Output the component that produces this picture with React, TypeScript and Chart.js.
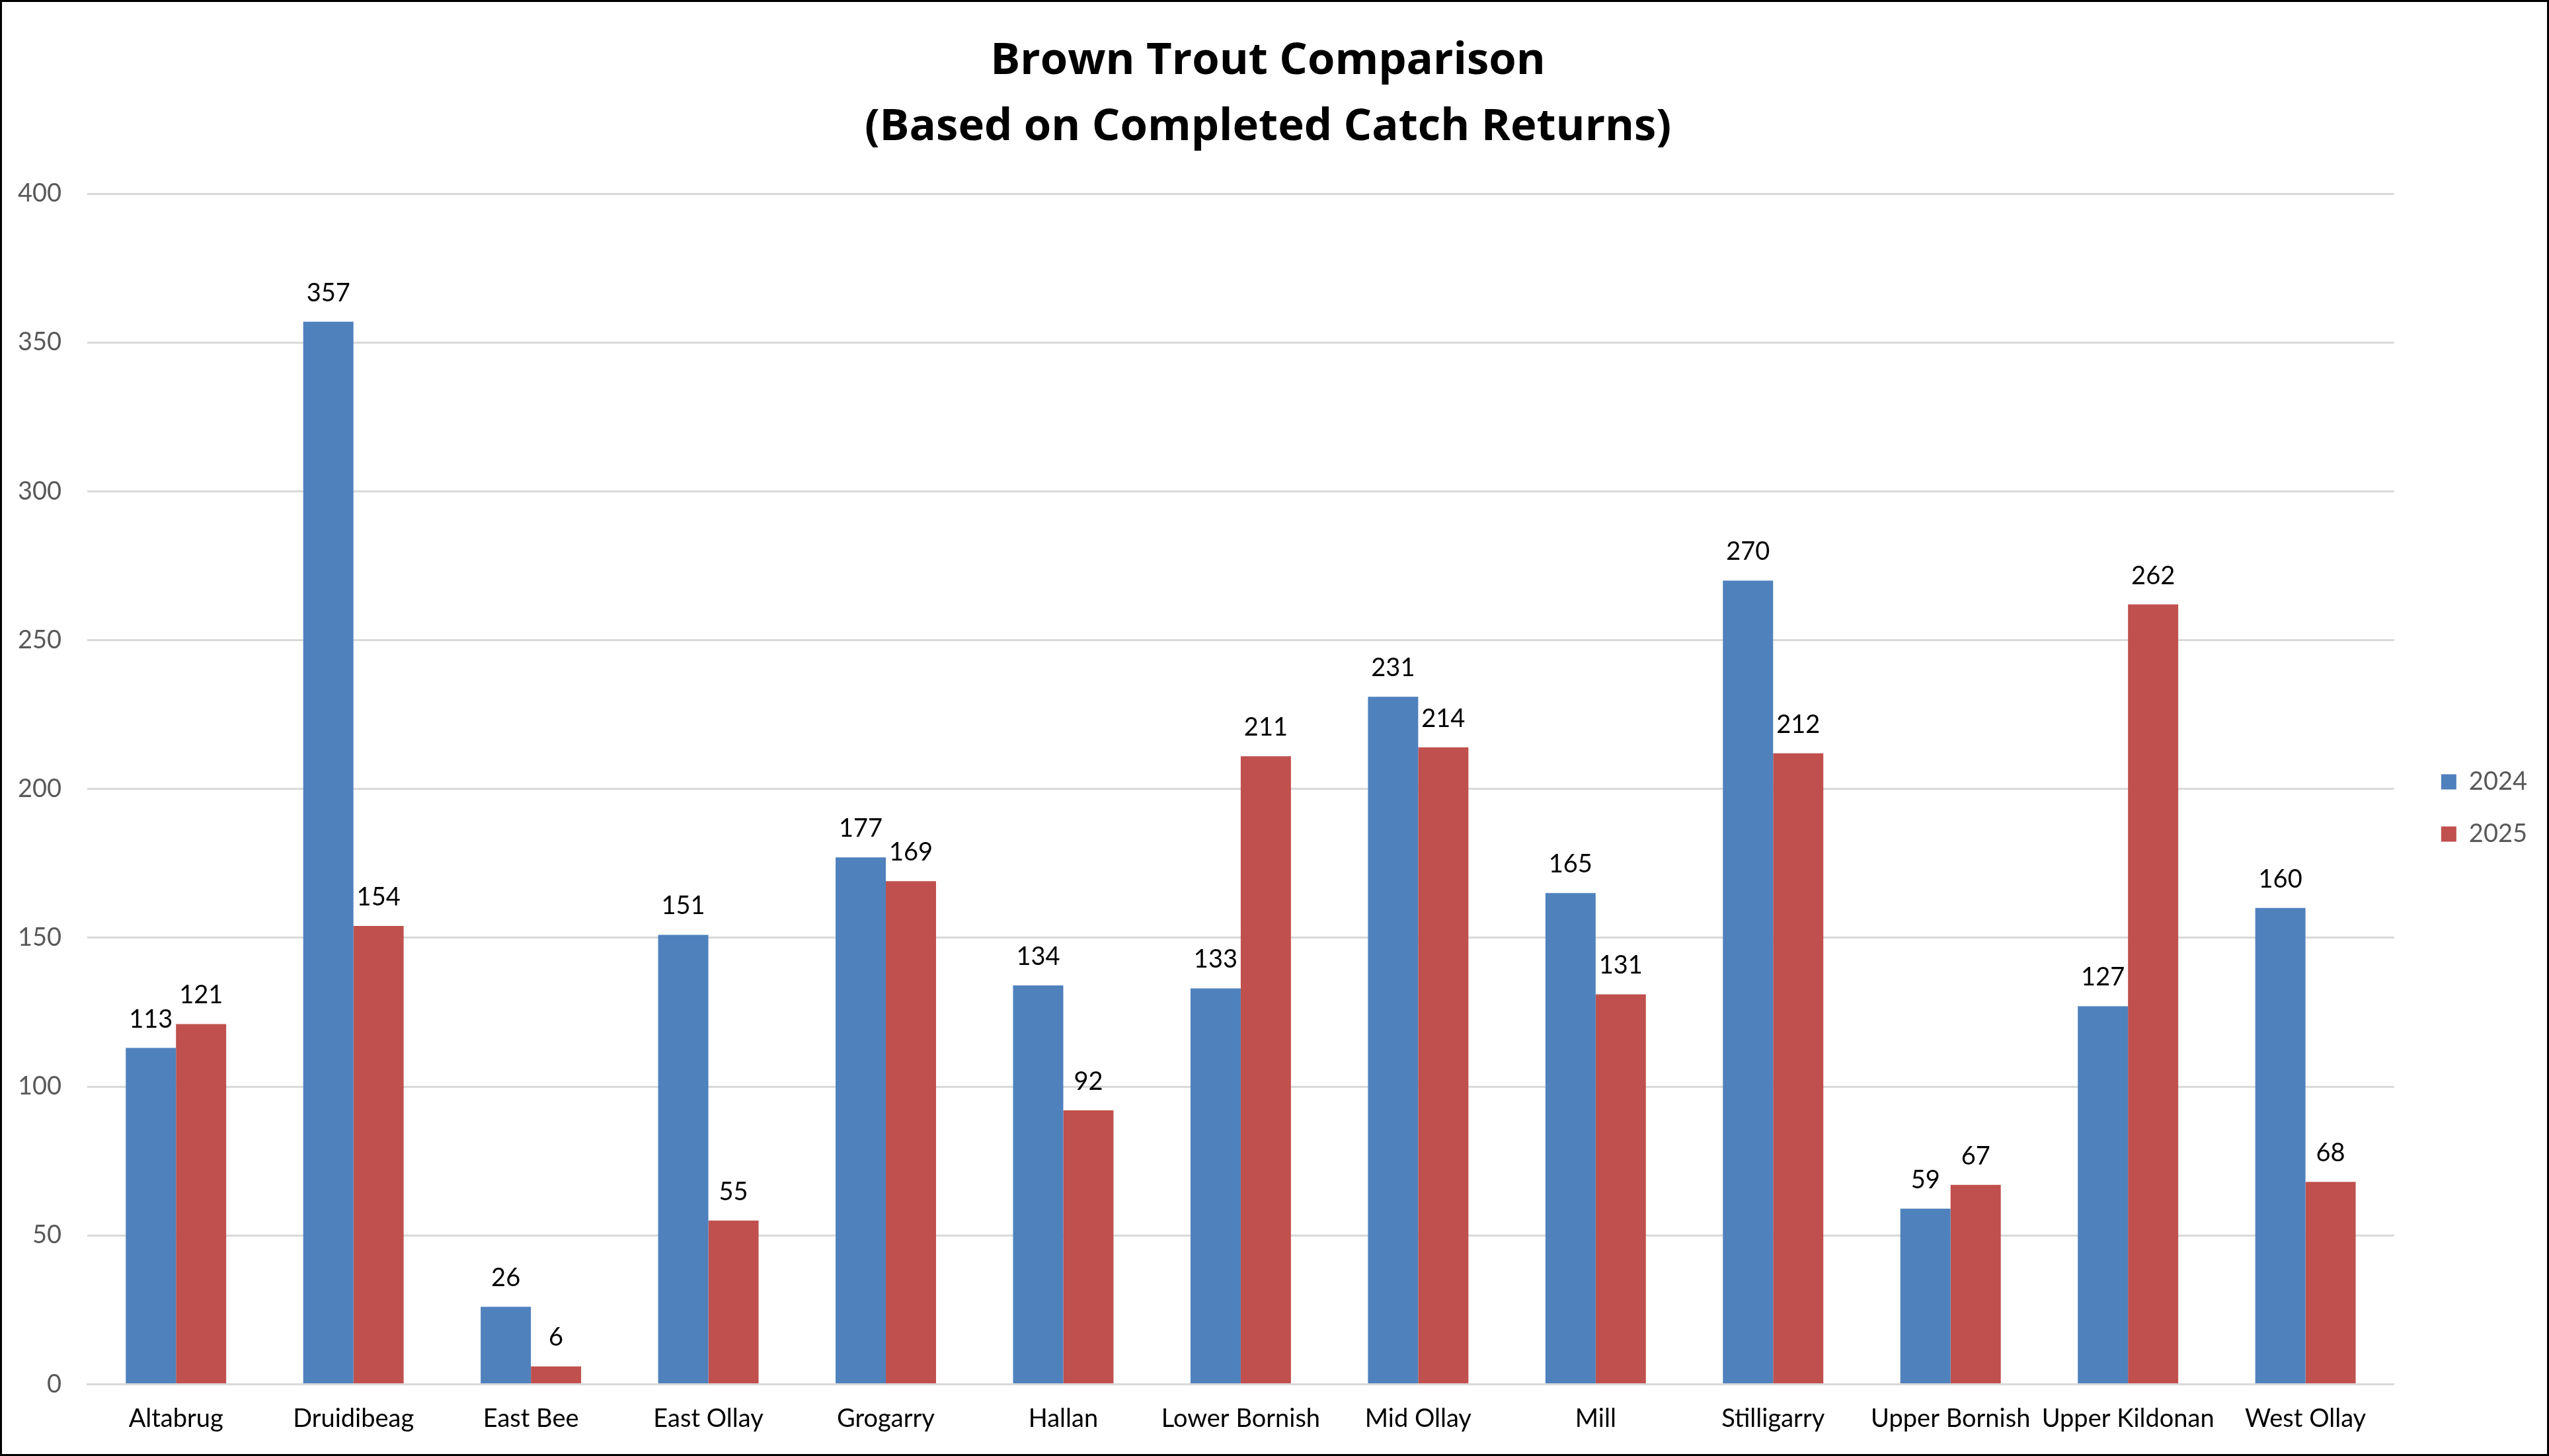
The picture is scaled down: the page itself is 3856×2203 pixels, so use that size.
import React, { useEffect, useRef } from "react";
import { Chart, registerables } from "chart.js";

Chart.register(...registerables);

const categories = [
  "Altabrug",
  "Druidibeag",
  "East Bee",
  "East Ollay",
  "Grogarry",
  "Hallan",
  "Lower Bornish",
  "Mid Ollay",
  "Mill",
  "Stilligarry",
  "Upper Bornish",
  "Upper Kildonan",
  "West Ollay",
];
const values2024 = [113, 357, 26, 151, 177, 134, 133, 231, 165, 270, 59, 127, 160];
const values2025 = [121, 154, 6, 55, 169, 92, 211, 214, 131, 212, 67, 262, 68];
const seriesNames = ["2024", "2025"];
const titleLines = ["Brown Trout Comparison", "(Based on Completed Catch Returns)"];
const yMin = 0;
const yMax = 400;
const yStep = 50;

const FONT = "Lato, 'Open Sans', sans-serif";
const TITLE_FONT = "'Open Sans', Lato, sans-serif";

const dataLabelPlugin = {
  id: "dataLabels",
  afterDatasetsDraw(chart: any) {
    const ctx = chart.ctx;
    ctx.save();
    ctx.font = `38px ${FONT}`;
    ctx.fillStyle = "#000000";
    ctx.textAlign = "center";
    ctx.textBaseline = "alphabetic";
    chart.data.datasets.forEach((ds: any, di: number) => {
      const meta = chart.getDatasetMeta(di);
      meta.data.forEach((el: any, i: number) => {
        ctx.fillText(String(ds.data[i]), el.x, el.y - 31);
      });
    });
    ctx.restore();
  },
};

export default function App() {
  const canvasRef = useRef<HTMLCanvasElement | null>(null);

  useEffect(() => {
    if (!canvasRef.current) return;
    const chart = new Chart(canvasRef.current, {
      type: "bar",
      data: {
        labels: categories,
        datasets: [
          {
            label: seriesNames[0],
            data: values2024,
            backgroundColor: "#4F81BD",
            borderWidth: 0,
            categoryPercentage: 0.566,
            barPercentage: 1,
          },
          {
            label: seriesNames[1],
            data: values2025,
            backgroundColor: "#C0504D",
            borderWidth: 0,
            categoryPercentage: 0.566,
            barPercentage: 1,
          },
        ],
      },
      options: {
        animation: false,
        responsive: true,
        maintainAspectRatio: false,
        layout: { padding: { left: 0, right: 20, top: 0, bottom: 0 } },
        plugins: {
          title: {
            display: true,
            text: titleLines,
            color: "#000000",
            font: { family: TITLE_FONT, size: 67, weight: "bold", lineHeight: 1.493 },
            padding: { top: 40, bottom: 50 },
          },
          legend: {
            display: true,
            position: "right",
            align: "center",
            title: {
              display: true,
              text: "",
              font: { size: 10, lineHeight: 1.2 },
              padding: { top: 0, bottom: 230 },
            },
            labels: {
              boxWidth: 23,
              boxHeight: 23,
              padding: 41,
              color: "#595959",
              font: { family: FONT, size: 38 },
            },
          },
          tooltip: { enabled: false },
        },
        scales: {
          x: {
            grid: { display: false, drawTicks: false },
            border: { display: true, color: "#D9D9D9", width: 3 },
            ticks: {
              color: "#000000",
              font: { family: FONT, size: 38 },
              padding: 30,
              maxRotation: 0,
              autoSkip: false,
            },
          },
          y: {
            min: yMin,
            max: yMax,
            grid: { color: "#D9D9D9", lineWidth: 3, drawTicks: false },
            border: { display: false },
            ticks: {
              stepSize: yStep,
              color: "#595959",
              font: { family: FONT, size: 38 },
              padding: 39,
            },
            afterFit: (scale: any) => {
              scale.width = 129;
            },
          },
          yR: {
            type: "linear",
            position: "right",
            display: true,
            grid: { display: false, drawTicks: false },
            border: { display: false },
            ticks: { display: false },
            afterFit: (scale: any) => {
              scale.width = 30;
            },
          },
        },
      },
      plugins: [dataLabelPlugin],
    });
    return () => chart.destroy();
  }, []);

  return (
    <div
      style={{
        position: "absolute",
        left: 0,
        top: 0,
        width: 3856,
        height: 2203,
        border: "3px solid #000000",
        boxSizing: "border-box",
        background: "#ffffff",
      }}
    >
      <div style={{ position: "relative", width: "100%", height: "100%" }}>
        <canvas ref={canvasRef} />
      </div>
    </div>
  );
}
